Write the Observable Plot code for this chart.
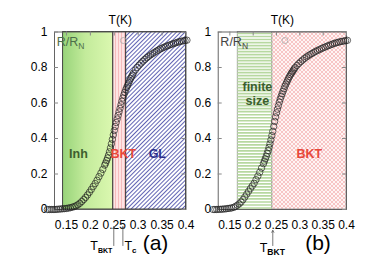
<!DOCTYPE html>
<html><head><meta charset="utf-8">
<script src="https://cdn.jsdelivr.net/npm/d3@7"></script>
<script src="https://cdn.jsdelivr.net/npm/@observablehq/plot@0.6"></script>
<style>
body{margin:0;background:#fff;}
#wrap{position:relative;width:372px;height:261px;overflow:hidden;background:#fff;}
#wrap svg{position:absolute;top:0;overflow:visible;}
</style></head><body><div id="wrap"></div>
<script>
const xTicks = [0.15, 0.2, 0.25, 0.3, 0.35, 0.4];
const yTicks = [0, 0.2, 0.4, 0.6, 0.8, 1];

// panel (a): temperature (K) and R/RN
const tA = [0.110,0.114,0.118,0.122,0.126,0.130,0.134,0.138,0.142,0.146,0.150,0.154,0.158,0.162,0.166,0.170,0.174,0.178,0.182,0.186,0.190,0.194,0.198,0.202,0.206,0.210,0.214,0.218,0.222,0.226,0.230,
0.232,0.234,0.236,0.238,0.240,0.242,0.244,0.246,0.248,0.250,0.252,0.254,0.256,0.258,0.260,0.262,0.264,0.266,0.268,0.270,0.272,0.274,0.276,0.278,0.280,0.282,0.284,0.286,0.288,0.290,
0.294,0.298,0.302,0.306,0.310,0.314,0.318,0.322,0.326,0.330,0.334,0.338,0.342,0.346,0.350,0.354,0.358,0.362,0.366,0.370,0.374,0.378,0.382,0.386,0.390,0.394,0.398,0.402];
const rA = [0,0,0,0,0,0.001,0.002,0.003,0.004,0.005,0.006,0.008,0.010,0.013,0.016,0.021,0.027,0.035,0.045,0.056,0.068,0.082,0.097,0.113,0.130,0.146,0.165,0.185,0.205,0.226,0.250,
0.262,0.276,0.290,0.306,0.325,0.347,0.370,0.395,0.420,0.445,0.468,0.490,0.510,0.530,0.550,0.570,0.590,0.610,0.628,0.645,0.660,0.675,0.688,0.700,0.713,0.725,0.737,0.748,0.758,0.768,
0.785,0.800,0.813,0.825,0.836,0.846,0.855,0.863,0.871,0.878,0.885,0.892,0.898,0.904,0.909,0.914,0.919,0.923,0.927,0.931,0.935,0.938,0.942,0.945,0.948,0.950,0.952,0.954];

// panel (b)
const tB = [0.114,0.118,0.122,0.126,0.130,0.134,0.138,0.142,0.146,0.150,0.154,0.158,0.162,0.166,0.170,0.174,0.178,0.182,0.186,0.190,0.194,0.198,0.202,0.206,0.210,0.214,0.218,0.222,
0.224,0.226,0.228,0.230,0.232,0.234,0.236,0.238,0.240,0.242,0.244,0.246,0.248,0.250,0.252,0.254,0.256,0.258,0.260,0.262,0.264,0.266,0.268,0.270,0.272,0.274,0.276,0.278,0.280,0.282,0.284,0.286,0.288,0.290,
0.294,0.298,0.302,0.306,0.310,0.314,0.318,0.322,0.326,0.330,0.334,0.338,0.342,0.346,0.350,0.354,0.358,0.362,0.366,0.370,0.374,0.378,0.382,0.386,0.390,0.394,0.398,0.402];
const rB = [0,0,0,0.001,0.001,0.002,0.003,0.004,0.006,0.007,0.009,0.012,0.017,0.024,0.032,0.042,0.055,0.070,0.086,0.102,0.118,0.133,0.148,0.168,0.188,0.210,0.234,0.258,
0.272,0.286,0.300,0.316,0.332,0.350,0.370,0.392,0.416,0.440,0.468,0.496,0.522,0.545,0.565,0.585,0.605,0.622,0.638,0.652,0.666,0.680,0.694,0.706,0.718,0.729,0.740,0.750,0.760,0.768,0.776,0.784,0.792,0.800,
0.812,0.823,0.833,0.842,0.851,0.859,0.866,0.873,0.879,0.885,0.891,0.896,0.901,0.906,0.911,0.915,0.920,0.924,0.928,0.932,0.936,0.939,0.942,0.945,0.947,0.949,0.951,0.953];

// regime boundaries (K)
const regionsA = [
  {name: "Inh", x1: 0.143, x2: 0.248, fill: "url(#gInhA)"},
  {name: "BKT", x1: 0.248, x2: 0.275, fill: "url(#pinkA)"},
  {name: "GL",  x1: 0.275, x2: 0.400, fill: "url(#blueA)"}
];
const regionsB = [
  {name: "finite size", x1: 0.167, x2: 0.241, fill: "#ffffff", striped: true},
  {name: "BKT", x1: 0.241, x2: 0.400, fill: "url(#crossB)"}
];
const labelsA = [
  {text: "Inh", x: 0.175, y: 0.315, color: "#3e5e2e"},
  {text: "BKT", x: 0.269, y: 0.315, color: "#e8473a"},
  {text: "GL",  x: 0.340, y: 0.315, color: "#2c2f8c"}
];
const labelsB = [
  {text: "finite", x: 0.209, y: 0.69, color: "#3b5e2e"},
  {text: "size",   x: 0.209, y: 0.61, color: "#3b5e2e"},
  {text: "BKT",    x: 0.3205, y: 0.315, color: "#e8473a"}
];
const legendA = [{x: 0.269, y: 0.952}];
const legendB = [{x: 0.268, y: 0.952}];
const arrowsA = [{t: 0.249, sub: "BKT", side: "end"}, {t: 0.268, sub: "c", side: "start"}];
const arrowsB = [{t: 0.242, sub: "BKT", side: "middle"}];

const xDomain = [0.125, 0.4];
const H = 261, MT = 31.5, MB = 52;
const fmt = d => String(d);
const stripeStep = 1 / 59; // horizontal hatch spacing (~3 px)

function build(cfg) {
  const pts = cfg.t.map((t, i) => ({t, r: cfg.r[i]})).filter(d => d.r !== undefined);
  const pw = cfg.width - cfg.ml - cfg.mr;
  const ph = H - MT - MB;
  const striped = cfg.regions.filter(d => d.striped);
  const stripes = striped.flatMap(reg => d3.range(stripeStep / 2, 1, stripeStep).map(y => ({x1: reg.x1, x2: reg.x2, y})));
  const svg = Plot.plot({
    width: cfg.width, height: H,
    marginLeft: cfg.ml, marginRight: cfg.mr, marginTop: MT, marginBottom: MB,
    style: {fontFamily: "'Liberation Sans', Arial, sans-serif", fontSize: "12px", background: "transparent", overflow: "visible", color: "#000"},
    x: {domain: xDomain, ticks: xTicks, tickFormat: fmt, tickSize: 0, tickPadding: 11, label: null},
    y: {domain: [0, 1], ticks: yTicks, tickFormat: fmt, tickSize: 0, tickPadding: 7, label: null},
    marks: [
      Plot.rect(cfg.regions, {x1: "x1", x2: "x2", y1: 0, y2: 1, fill: d => d.fill, stroke: cfg.regionStroke, strokeWidth: 0.9}),
      Plot.ruleY(stripes, {x1: "x1", x2: "x2", y: "y", stroke: "#b7d8a0", strokeWidth: 1.7}),
      Plot.frame({stroke: "#555", strokeWidth: 0.9}),
      Plot.tickY(yTicks, {y: d => d, insetRight: pw - 4, stroke: "#888"}),
      Plot.tickY(yTicks, {y: d => d, insetLeft: pw - 4, stroke: "#888"}),
      Plot.tickX(xTicks, {x: d => d, insetBottom: ph - 4, stroke: "#888"}),
      Plot.dot(pts, {x: "t", y: "r", r: 3.2, stroke: "#1e1e1e", strokeOpacity: 0.68, strokeWidth: 1, fill: "none"}),
      Plot.dot(cfg.legend, {x: "x", y: "y", r: 3, stroke: "#aaa", strokeWidth: 0.8, fill: "none"}),
      Plot.text(cfg.labels, {x: "x", y: "y", text: "text", fill: d => d.color, fontWeight: "bold", fontSize: 12.5}),
      Plot.text(["T(K)"], {frameAnchor: "top", lineAnchor: "middle", dy: -11.5, fontSize: 12, fill: "#000"}),
      Plot.arrow(cfg.arrows, {x1: "t", x2: "t", y1: cfg.arrowY[0], y2: cfg.arrowY[1], stroke: "#555", strokeWidth: 0.8, headLength: 4})
    ]
  });
  svg.style.left = cfg.left + "px";
  const sel = d3.select(svg);
  const sx = svg.scale("x").apply;
  const defs = sel.insert("defs", ":first-child");
  cfg.defs(defs);

  // R/R_N legend text
  const rt = sel.append("text").attr("x", sx(xDomain[0]) + 16.5).attr("y", 46)
    .attr("fill", cfg.rColor).attr("font-size", 12.5);
  rt.append("tspan").text("R/R");
  rt.append("tspan").attr("font-size", 8.5).attr("dy", 3).text("N");

  // T labels below arrows
  for (const a of cfg.arrows) {
    const x0 = sx(a.t);
    const g = sel.append("text").attr("y", cfg.tBase).attr("fill", "#000").attr("font-size", 12.5);
    let x = a.side === "end" ? x0 - 1 : a.side === "start" ? x0 + 2 : x0;
    g.attr("x", x).attr("text-anchor", a.side);
    g.append("tspan").text("T");
    g.append("tspan").attr("font-size", a.sub === "c" ? 8 : cfg.subSize).attr("dy", 3).attr("font-weight", "bold").text(a.sub);
  }
  sel.append("text").attr("x", sx(xDomain[1]) - cfg.tagOff).attr("y", 250)
    .attr("text-anchor", "middle").attr("font-size", 21).attr("fill", "#000").text(cfg.tag);
  return svg;
}

function makeDefs(prefix) {
  return defs => {
    const g = defs.append("linearGradient").attr("id", "gInh" + prefix).attr("x1", 0).attr("x2", 1).attr("y1", 0).attr("y2", 0);
    g.append("stop").attr("offset", 0).attr("stop-color", "#98d47a");
    g.append("stop").attr("offset", 0.45).attr("stop-color", "#c3eb9b");
    g.append("stop").attr("offset", 1).attr("stop-color", "#dbf8b0");

    const p = defs.append("pattern").attr("id", "pink" + prefix).attr("patternUnits", "userSpaceOnUse")
      .attr("width", 3).attr("height", 3);
    p.append("rect").attr("width", 3).attr("height", 3).attr("fill", "#fde4e4");
    p.append("path").attr("d", "M1.5,0V3").attr("stroke", "#f2b2b2").attr("stroke-width", 0.8);

    const pb = defs.append("pattern").attr("id", "cross" + prefix).attr("patternUnits", "userSpaceOnUse")
      .attr("width", 4).attr("height", 4);
    pb.append("rect").attr("width", 4).attr("height", 4).attr("fill", "#fff4f4");
    pb.append("path").attr("d", "M0,0L4,4M4,0L0,4").attr("stroke", "#f3b0b0").attr("stroke-width", 0.7);

    const b = defs.append("pattern").attr("id", "blue" + prefix).attr("patternUnits", "userSpaceOnUse")
      .attr("width", 3).attr("height", 3).attr("patternTransform", "rotate(45)");
    b.append("rect").attr("width", 3).attr("height", 3).attr("fill", "#fff");
    b.append("path").attr("d", "M0.5,0V3").attr("stroke", "#4448a6").attr("stroke-width", 0.85);
  };
}

const wrap = document.getElementById("wrap");
wrap.append(build({
  t: tA, r: rA, regions: regionsA, labels: labelsA, legend: legendA, arrows: arrowsA,
  width: 190, ml: 54, mr: 4.5, left: 0, regionStroke: "#333", arrowY: [-0.203, -0.097],
  defs: makeDefs("A"), rColor: "#4d6e4a", tBase: 250, subSize: 7, tag: "(a)", tagOff: 30
}));
wrap.append(build({
  t: tB, r: rB, regions: regionsB, labels: labelsB, legend: legendB, arrows: arrowsB,
  width: 186, ml: 31.7, mr: 26, left: 186, regionStroke: "#999", arrowY: [-0.203, -0.118],
  defs: makeDefs("B"), rColor: "#444", tBase: 252, subSize: 8.5, tag: "(b)", tagOff: 28
}));
</script></body></html>
